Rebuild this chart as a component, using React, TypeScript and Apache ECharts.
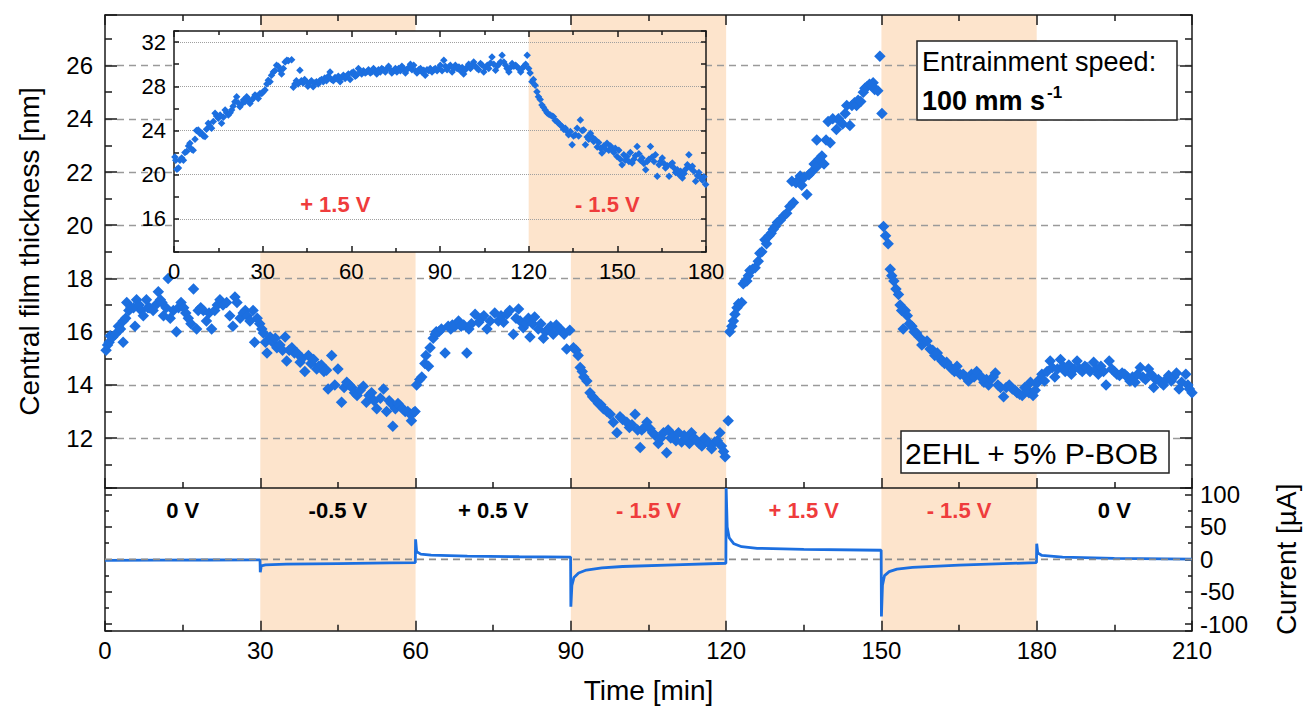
import React, { useEffect, useRef } from 'react';
import * as echarts from 'echarts';

const FONT = '"Liberation Sans", Arial, Helvetica, sans-serif';
const BLUE = '#1c6fe0';
const BAND = '#fde4cc';
const RED = '#ef3c3c';
const AXIS = '#1a1a1a';

// Time axis ticks (minutes)
const timeMin = 0;
const timeMax = 210;
const insetTimeMax = 180;

// Voltage segments of the experiment
const segFrom = [0, 30, 60, 90, 120, 150, 180];
const segTo = [30, 60, 90, 120, 150, 180, 210];
const segLabel = ['0 V', '-0.5 V', '+ 0.5 V', '- 1.5 V', '+ 1.5 V', '- 1.5 V', '0 V'];
const segBand = [false, true, false, true, false, true, false];
const segRed = [false, false, false, true, true, true, false];

// Inset segments
const insetFrom = [0, 120];
const insetTo = [120, 180];
const insetLabel = ['+ 1.5 V', '- 1.5 V'];
const insetBand = [false, true];

const insetGridValues = [16, 20, 24, 28, 32];
// zero-current reference line (time, current)
const currentZero: [number, number][] = [[0, 0], [210, 0]];

// Central film thickness [nm] vs time [min] (main plot)
const thickness: [number, number][] = [
  [0.2,15.3],[0.5,15.5],[0.8,15.6],[1,15.85],[1.5,15.8],[2,15.9],[2.6,16.2],[3,16.1],[3.5,16.4],[3.5,15.6],[4,16.5],[4.2,17.1],[4.6,16.8],[5,16.9],[5.5,16.9],[5.8,16.2],[6.1,17.2],[6.6,17.0],[7,16.8],[7.4,16.6],[8,17.2],[8.3,16.9],[8.6,16.9],[9.3,16.8],[9.8,17.0],[10.3,17.5],[10.7,17.2],[11,17.1],[11.3,16.6],[11.8,16.9],[12.2,18.0],[12.6,16.5],[13.2,16.8],[13.8,16.0],[14.2,16.9],[14.7,17.1],[15.2,16.9],[15.6,16.7],[16.1,16.5],[16.6,16.3],[17.1,17.6],[17.7,16.1],[18,16.8],[18.5,16.9],[19,16.8],[19.6,16.4],[20.1,16.7],[20.6,16.1],[21.2,16.8],[21.7,17.0],[22.2,17.2],[22.8,17.0],[23.5,17.1],[24.1,16.6],[24.7,16.2],[25.1,17.3],[25.5,17.1],[26.1,16.5],[26.7,16.7],[27.1,16.8],[27.5,16.6],[28,16.4],[28.6,16.8],[28.9,15.6],[29.4,16.5],[29.9,16.3],
  [30.3,16.1],[30.6,15.95],[31,15.6],[31.3,15.2],[31.9,15.8],[32.4,15.6],[32.9,15.75],[33.2,15.4],[33.8,15.5],[34.3,15.3],[34.8,15.8],[35.1,14.9],[35.6,15.3],[36.1,15.4],[36.6,15.2],[37.1,15.2],[37.7,14.85],[38.1,15.0],[38.6,14.5],[39.3,15.1],[39.8,14.8],[40.3,14.95],[40.9,14.6],[41.3,14.7],[41.8,14.75],[42.3,14.5],[42.8,14.55],[43.1,13.85],[43.8,15.1],[44.4,14.0],[45,14.6],[45.7,13.35],[46.2,13.9],[46.7,14.1],[47.2,14.0],[47.7,13.9],[48.2,13.7],[48.7,13.6],[49.3,13.8],[49.9,13.95],[50.5,13.35],[51,13.6],[51.5,13.7],[52,13.4],[52.5,13.1],[53.2,13.5],[53.8,13.85],[54.4,13.0],[54.9,13.4],[55.3,13.3],[55.6,12.45],[56.1,13.1],[56.6,13.3],[57,13.2],[57.5,13.1],[58,13.0],[58.5,13.0],[59,12.9],[59.2,12.65],[59.6,12.95],[59.9,13.0],
  [60.2,14.0],[60.8,14.2],[61.2,14.3],[61.8,14.8],[62,15.1],[62.5,14.7],[62.8,15.4],[63.4,15.75],[63.8,15.9],[64,16.0],[64.5,16.0],[65,16.1],[65.7,15.2],[66.3,16.2],[66.8,16.1],[67.1,16.25],[67.6,16.2],[68.3,16.4],[68.8,16.2],[69.3,16.25],[69.9,15.2],[70.3,16.1],[70.8,16.3],[71.5,16.65],[72.2,16.35],[72.7,16.5],[73.2,16.6],[73.8,16.1],[74.4,16.4],[75.3,16.7],[76,16.4],[76.5,16.6],[77,16.35],[77.6,16.65],[78.2,16.8],[78.9,15.9],[79.4,16.5],[79.9,16.85],[80.2,16.4],[80.8,16.15],[81.3,16.3],[81.8,16.5],[82.1,15.8],[82.6,16.3],[83,16.55],[83.7,16.1],[84.2,16.3],[84.7,15.75],[85.1,16.0],[85.6,16.1],[86.1,16.2],[86.6,15.9],[87.2,16.25],[87.7,16.1],[88.2,16.05],[88.7,15.9],[89.2,15.35],[89.8,16.05],
  [90.5,15.4],[91,15.3],[91.4,15.1],[91.8,14.65],[92.2,14.5],[92.5,14.3],[93.1,14.15],[93.7,13.7],[94.2,13.55],[94.7,13.45],[95.3,13.3],[95.8,13.25],[96.3,13.1],[97,13.0],[97.6,12.9],[98.2,12.6],[98.9,12.2],[99.5,12.8],[100,12.7],[100.8,12.6],[101.3,12.4],[101.8,12.5],[102.4,12.9],[102.9,12.3],[103.4,11.65],[103.7,12.3],[104.2,12.4],[104.7,12.6],[105.3,12.35],[105.8,12.2],[106.3,12.1],[106.9,11.8],[107.4,12.0],[107.9,12.2],[108.5,11.45],[108.8,12.3],[109.3,12.0],[109.8,12.1],[110.3,11.9],[110.8,12.2],[111.4,11.85],[111.9,12.1],[112.4,12.0],[112.9,11.8],[113.3,12.2],[113.8,12.0],[114.3,11.9],[114.8,11.8],[115.3,11.7],[115.8,12.0],[116.2,11.9],[116.7,11.8],[117.2,11.6],[117.8,11.85],[118.3,11.9],[118.8,12.2],[119.1,11.7],[119.5,11.5],[119.8,11.3],
  [120.4,12.65],[120.7,16.0],[121.1,16.2],[121.4,16.4],[121.7,16.65],[122.1,16.9],[122.4,17.05],[123,17.1],[123.3,17.8],[123.7,17.9],[124,17.9],[124.3,18.1],[124.6,18.3],[125.1,18.35],[125.6,18.4],[126.2,18.65],[126.5,18.95],[126.9,19.0],[127.5,19.45],[127.8,19.3],[128.3,19.6],[128.7,19.7],[129.1,19.85],[129.5,19.95],[129.9,20.1],[130.5,20.2],[131.1,20.35],[131.7,20.45],[132.3,20.7],[132.7,21.65],[133,20.85],[133.5,21.6],[134,21.7],[134.3,21.85],[134.6,21.5],[135.1,21.8],[135.6,21.15],[136,21.9],[136.5,22.0],[137,22.3],[137.5,22.2],[137.5,23.2],[138,22.5],[138.5,22.6],[138.9,22.3],[139.3,23.2],[139.7,23.9],[140.1,23.1],[140.6,24.0],[141.3,23.6],[141.7,24.0],[142,23.9],[142.5,23.8],[143,24.2],[143.3,24.5],[143.9,23.75],[144.3,24.5],[144.8,24.6],[145.2,24.5],[145.5,24.7],[146,24.65],[146.5,25.0],[146.8,25.15],[147.2,25.2],[147.7,25.3],[148.1,25.25],[148.4,25.35],[148.7,25.1],[149.3,25.05],[149.7,26.35],
  [150.1,24.2],[150.4,19.95],[150.8,19.6],[151.3,19.3],[151.7,18.35],[152,18.1],[152.4,17.9],[152.8,17.6],[153.3,17.4],[153.6,17.0],[153.9,16.8],[154.2,16.1],[154.6,16.8],[155,16.6],[155.4,16.3],[155.9,16.2],[156.3,16.0],[156.8,15.95],[157.3,15.8],[157.8,15.5],[158.3,15.6],[158.8,15.65],[159.4,15.35],[159.9,15.3],[160.3,15.1],[160.8,15.2],[161.3,15.0],[161.7,14.9],[162.2,14.8],[162.6,14.85],[163.1,14.7],[163.6,14.6],[164.1,14.5],[164.6,14.7],[165.2,14.4],[165.8,14.4],[166.3,14.3],[166.8,14.15],[167.4,14.4],[167.9,14.3],[168.4,14.5],[168.9,14.35],[169.3,14.3],[169.8,14.1],[170.3,14.2],[170.7,14.0],[171.1,14.2],[171.6,14.3],[172,14.45],[172.5,14.0],[173,13.9],[173.6,13.55],[174.1,13.9],[174.7,14.0],[175.3,13.85],[175.8,13.8],[176.2,13.7],[176.7,13.65],[177.2,13.6],[177.7,13.9],[178.1,13.85],[178.5,13.7],[178.8,14.1],[179.3,13.6],[179.7,13.8],
  [180,14.05],[180.5,14.2],[181,14.4],[181.5,14.15],[182,14.5],[182.6,14.9],[183,14.65],[183.5,14.3],[184,14.6],[184.6,14.95],[185.1,14.7],[185.5,14.5],[186.2,14.75],[186.7,14.4],[187.2,14.6],[187.8,14.9],[188.3,14.6],[188.8,14.5],[189.3,14.7],[189.7,14.65],[190.3,14.5],[191,14.85],[191.5,14.6],[191.9,14.4],[192.4,14.7],[192.9,14.5],[193.4,14.0],[194,14.9],[194.5,14.6],[195,14.5],[195.5,14.4],[196,14.35],[196.5,14.45],[197,14.4],[197.5,14.3],[198,14.15],[198.5,14.3],[199,14.1],[199.5,14.4],[200,14.65],[200.5,14.3],[201,14.2],[201.6,14.6],[202.1,14.4],[202.6,13.9],[203,14.2],[203.5,14.2],[204,14.1],[204.5,14.0],[205,14.2],[205.5,14.35],[206,14.15],[206.5,14.3],[207,14.45],[207.5,13.85],[208,14.1],[208.8,14.4],[209.2,14.0],[209.5,13.85],[210,13.7]
];

// Inset: central film thickness [nm] vs time [min] at +1.5 V then -1.5 V
const insetThickness: [number, number][] = [
  [0.3,21.6],[0.6,21.3],[1,20.5],[1.5,20.6],[2,21.3],[2.6,21.5],[3.2,21.3],[3.7,22.0],[4.3,22.1],[4.9,22.6],[5.4,22.85],[6,22.3],[6.5,22.2],[7.1,23.2],[7.6,24.0],[8.2,24.05],[8.7,23.75],[9.4,23.75],[9.9,23.5],[10.5,23.45],[11,24.1],[11.6,24.65],[12.1,24.4],[12.7,24.2],[13.3,24.8],[13.9,25.55],[14.4,25.3],[15,25.1],[15.6,25.4],[16.1,24.65],[16.7,25.2],[17.3,25.85],[17.8,25.6],[18.4,25.4],[19,25.6],[19.5,25.85],[20,26.2],[20.6,26.6],[21.2,27.05],[21.7,26.5],[22.3,26.15],[22.9,26.4],[23.5,26.75],[24,26.6],[24.6,27.05],[25.2,26.8],[25.7,26.45],[26.3,26.75],[26.8,26.9],[27.4,27.2],[27.9,27.1],[28.5,26.9],[29.1,27.35],[29.7,27.35],[30.2,27.5],[30.8,27.65],[31.4,28.2],[31.9,28.55],[32.5,28.4],[33,29.0],[33.6,29.3],[34.1,29.4],[34.7,29.9],[35.3,29.8],[35.9,29.45],[36.4,29.1],[37,29.6],[37.6,30.2],[38.2,30.35],[38.7,30.3],[39.8,30.4],
  [40.4,27.9],[40.9,28.2],[41.4,28.5],[42,28.2],[42.6,29.45],[43.1,28.5],[43.7,28.3],[44.2,28.6],[44.8,28.4],[45.3,28.0],[45.9,28.3],[46.5,28.5],[47.1,27.95],[47.6,28.3],[48.2,28.4],[48.8,28.2],[49.3,28.5],[49.9,28.6],[50.5,28.4],[51,28.75],[51.6,28.5],[52.2,28.9],[52.8,29.3],[53.3,28.6],[53.9,28.5],[54.5,28.8],[55,28.7],[55.6,28.9],[56.2,28.4],[56.7,28.8],[57.3,29.0],[57.9,28.7],[58.4,28.9],[59,29.1],[59.6,28.6],[60.1,29.2],[60.7,29.3],[61.3,28.9],[61.8,29.0],[62.4,29.6],[63,29.3],[63.5,29.1],[64.1,29.4],[64.7,29.2],[65.2,29.3],[65.8,29.5],[66.4,29.2],[66.9,29.3],[67.5,29.6],[68.1,29.4],[68.6,29.1],[69.2,29.5],[69.8,29.3],[70.3,29.6],[70.9,29.5],[71.5,29.3],[72,29.55],[72.6,29.8],[73.2,29.5],[73.7,29.2],[74.3,29.4],[74.9,29.6],[75.4,29.3],[76,29.6],[76.6,29.4],[77.1,29.8],[77.7,29.6],[78.3,29.2],[78.8,29.5],[79.4,29.7],[80,30.0],[80.5,29.5],[81.1,29.9],[81.7,29.4],[82.2,29.2],[82.8,29.5],[83.4,29.6],[83.9,29.3],[84.5,29.45],[85,29.0],[85.6,29.5],[86.2,29.4],[86.7,29.6],[87.3,29.3],[87.9,29.5],[88.4,29.6],[89,29.4],[89.6,29.6],
  [90.1,29.9],[90.7,29.4],[91.3,30.35],[91.8,29.8],[92.4,29.5],[93,29.75],[93.5,29.9],[94.1,29.3],[94.7,29.6],[95.2,29.9],[95.8,29.6],[96.4,29.75],[96.9,29.4],[97.5,29.7],[98,29.1],[98.6,29.5],[99.2,29.75],[99.7,30.0],[100.3,29.6],[100.9,29.9],[101.4,30.2],[102,29.8],[102.6,29.6],[103.1,29.5],[103.7,30.05],[104.3,29.9],[104.8,29.3],[105.4,29.7],[106,29.9],[106.5,29.6],[107.1,30.1],[107.6,30.65],[108.2,30.0],[108.8,29.45],[109.3,29.8],[109.9,30.0],[110.5,30.2],[111,30.8],[111.6,30.2],[112.2,29.9],[112.7,29.6],[113.3,29.3],[113.9,29.7],[114.4,30.05],[115,29.8],[115.6,29.9],[116.1,29.75],[116.7,29.6],[117.3,29.3],[117.8,29.6],[118.4,29.8],[119,30.0],[119.5,30.8],[120,29.6],
  [120.5,29.2],[121.1,28.4],[121.6,28.6],[122.2,28.1],[122.8,27.5],[123.3,27.05],[123.9,26.8],[124.5,26.3],[125,26.1],[125.6,25.85],[126.2,25.6],[126.7,25.5],[127.3,25.4],[127.9,25.3],[128.4,25.25],[129,24.9],[129.6,24.8],[130.1,24.65],[130.7,24.5],[131.3,24.35],[131.8,24.1],[132.4,24.2],[133,23.9],[133.5,23.6],[134.1,23.9],[134.7,22.7],[135.2,23.5],[135.8,23.6],[136.4,24.2],[136.9,23.5],[137.5,24.95],[138.1,24.0],[138.6,24.05],[139.2,22.7],[139.8,23.4],[140.3,23.2],[140.9,23.75],[141.5,23.4],[142,23.0],[142.6,23.15],[143.2,22.5],[143.7,22.9],[144.3,22.4],[144.8,21.95],[145.4,22.6],[146,22.3],[146.5,22.85],[147.1,22.2],[147.7,22.6],[148.2,22.25],[148.8,22.0],[149.3,22.4],[149.9,21.65],
  [150.5,22.2],[151,21.4],[151.6,20.9],[152.2,21.8],[152.7,21.3],[153.3,21.65],[153.9,21.2],[154.4,22.0],[155,21.05],[155.6,21.4],[156.1,21.7],[156.7,22.55],[157.3,21.9],[157.8,21.3],[158.4,21.5],[159,21.0],[159.6,20.45],[160.1,21.2],[160.7,21.4],[161.2,22.55],[161.8,21.6],[162.4,21.2],[162.9,21.8],[163.5,19.85],[164.1,20.9],[164.6,21.2],[165.2,21.5],[165.8,21.0],[166.3,20.6],[166.9,20.8],[167.5,19.85],[168,20.9],[168.6,21.05],[169.2,20.6],[169.7,20.2],[170.3,20.45],[170.9,20.0],[171.4,20.3],[172,19.7],[172.6,20.1],[173.1,20.5],[173.7,20.9],[174.2,21.8],[174.8,20.6],[175.4,20.75],[175.9,20.3],[176.5,19.4],[177.1,19.9],[177.6,20.2],[178.2,19.7],[178.8,19.5],[179.3,19.8],[179.9,19.1]
];

// Current [µA] vs time [min]
const current: [number, number][] = [
  [0,-1.5],[10,-1.2],[20,-1],[29.95,-0.8],
  [30,-20],[30.2,-10],[31,-8.5],[35,-7.5],[45,-6.5],[55,-5.5],[59.95,-5],
  [60,31],[60.2,12],[61,8],[63,6.5],[70,5],[80,4],[89.95,3.5],
  [90,-73],[90.2,-40],[90.6,-28],[91.5,-21],[93,-16.5],[96,-13],[100,-11],[110,-8.5],[119.95,-6],
  [120,110],[120.2,50],[120.6,33],[121.5,24],[123,19.5],[126,17],[135,15.5],[149.95,14],
  [150,-88],[150.2,-40],[150.6,-25],[151.5,-19],[153,-15],[156,-12.5],[165,-9],[179.95,-5],
  [180,24],[180.2,10],[181,6],[185,3.5],[195,1.5],[210,0.5]
];

const axisLineStyle = { color: AXIS, width: 1.5 };

function timeAxis(gridIndex: number, position: string, max: number, showLabels: boolean, z: number, major: number, minor: number, fontSize: number, extra: any = {}) {
  return {
    type: 'value', gridIndex, position, min: timeMin, max, interval: 30, z,
    axisLine: { show: true, onZero: false, lineStyle: axisLineStyle },
    axisTick: { show: true, inside: true, length: major, lineStyle: axisLineStyle },
    minorTick: { show: true, splitNumber: 2, length: minor, lineStyle: axisLineStyle },
    axisLabel: { show: showLabels, margin: 8, fontSize, color: '#000', fontFamily: FONT },
    splitLine: { show: false },
    ...extra,
  };
}

const option: any = {
  animation: false,
  backgroundColor: '#fff',
  textStyle: { fontFamily: FONT },
  grid: [
    { left: 105, top: 15, width: 1087, height: 473, outerBoundsMode: 'none', containLabel: false },
    { left: 105, top: 488, width: 1087, height: 142.7, outerBoundsMode: 'none', containLabel: false },
    { left: 174, top: 31, width: 532, height: 221, outerBoundsMode: 'none', containLabel: false, show: true, backgroundColor: '#fff', borderWidth: 0, z: 10 },
  ],
  xAxis: [
    timeAxis(0, 'bottom', timeMax, false, 3, 10, 6, 24),
    timeAxis(0, 'top', timeMax, false, 3, 10, 6, 24),
    timeAxis(1, 'bottom', timeMax, true, 3, 10, 6, 24, {
      name: 'Time [min]', nameLocation: 'middle', nameGap: 46,
      nameTextStyle: { fontSize: 28, color: '#000', fontFamily: FONT },
    }),
    timeAxis(2, 'bottom', insetTimeMax, true, 13, 6, 4, 22),
    timeAxis(2, 'top', insetTimeMax, false, 13, 6, 4, 22),
  ],
  yAxis: [
    {
      type: 'value', gridIndex: 0, position: 'left', min: 10.125, max: 27.9, splitNumber: 9, z: 3,
      name: 'Central film thickness [nm]', nameLocation: 'middle', nameGap: 62,
      nameTextStyle: { fontSize: 28, color: '#000', fontFamily: FONT },
      axisLine: { show: true, onZero: false, lineStyle: axisLineStyle },
      axisTick: { show: true, inside: true, length: 12, lineStyle: axisLineStyle },
      minorTick: { show: true, splitNumber: 2, length: 7, lineStyle: axisLineStyle },
      axisLabel: {
        margin: 12, fontSize: 24, color: '#000', fontFamily: FONT,
        formatter: (v: number) => (Math.abs(v - Math.round(v)) < 1e-6 && Math.round(v) % 2 === 0 ? String(Math.round(v)) : ''),
      },
      splitLine: { show: true, showMinLine: false, showMaxLine: false, lineStyle: { color: '#9a9a9a', type: [7, 5], width: 1.3 } },
    },
    {
      type: 'value', gridIndex: 0, position: 'right', min: 10.125, max: 27.9, splitNumber: 9, z: 3,
      axisLine: { show: true, onZero: false, lineStyle: axisLineStyle },
      axisTick: { show: true, inside: true, length: 12, lineStyle: axisLineStyle },
      minorTick: { show: true, splitNumber: 2, length: 7, lineStyle: axisLineStyle },
      axisLabel: { show: false },
      splitLine: { show: false },
    },
    {
      type: 'value', gridIndex: 1, position: 'left', min: -110, max: 110, splitNumber: 4, z: 3,
      axisLine: { show: true, onZero: false, lineStyle: axisLineStyle },
      axisTick: { show: true, inside: true, length: 7, lineStyle: axisLineStyle },
      minorTick: { show: true, splitNumber: 2, length: 4, lineStyle: axisLineStyle },
      axisLabel: { show: false },
      splitLine: { show: false },
    },
    {
      type: 'value', gridIndex: 1, position: 'right', min: -110, max: 110, splitNumber: 4, z: 3,
      name: 'Current [µA]', nameLocation: 'middle', nameGap: 80,
      nameTextStyle: { fontSize: 28, color: '#000', fontFamily: FONT },
      axisLine: { show: true, onZero: false, lineStyle: axisLineStyle },
      axisTick: { show: true, inside: true, length: 7, lineStyle: axisLineStyle },
      minorTick: { show: true, splitNumber: 2, length: 4, lineStyle: axisLineStyle },
      axisLabel: {
        margin: 8, fontSize: 24, color: '#000', fontFamily: FONT,
        formatter: (v: number) => (Math.abs(v) <= 100 ? String(v) : ''),
      },
      splitLine: { show: false },
    },
    {
      type: 'value', gridIndex: 2, position: 'left', min: 13, max: 33, splitNumber: 10, z: 13,
      axisLine: { show: true, onZero: false, lineStyle: axisLineStyle },
      axisTick: { show: true, inside: true, length: 5, lineStyle: axisLineStyle },
      axisLabel: {
        margin: 8, fontSize: 22, color: '#000', fontFamily: FONT,
        formatter: (v: number) => (v % 4 === 0 && v >= 16 ? String(v) : ''),
      },
      splitLine: { show: false },
    },
    {
      type: 'value', gridIndex: 2, position: 'right', min: 13, max: 33, splitNumber: 10, z: 13,
      axisLine: { show: true, onZero: false, lineStyle: axisLineStyle },
      axisTick: { show: true, inside: true, length: 5, lineStyle: axisLineStyle },
      axisLabel: { show: false },
      splitLine: { show: false },
    },
  ],
  series: [
    {
      type: 'scatter', name: 'thickness', xAxisIndex: 0, yAxisIndex: 0, z: 4,
      data: thickness, symbol: 'diamond', symbolSize: 11.5,
      itemStyle: { color: BLUE, opacity: 1 },
      markArea: {
        silent: true, z: 1,
        label: { show: false },
        data: segFrom.map((f, i) => ({ f, t: segTo[i], b: segBand[i] }))
          .filter((s) => s.b)
          .map((s) => [{ xAxis: s.f, itemStyle: { color: BAND } }, { xAxis: s.t }]),
      },
    },
    {
      type: 'line', name: 'current', xAxisIndex: 2, yAxisIndex: 3, z: 4,
      data: current, showSymbol: false, symbol: 'none',
      lineStyle: { color: BLUE, width: 2.8 },
      markArea: {
        silent: true, z: 1,
        label: { show: true, position: 'insideTop', distance: 11, fontSize: 22, fontWeight: 'bold', fontFamily: FONT },
        data: segFrom.map((f, i) => [
          {
            xAxis: f, name: segLabel[i],
            itemStyle: { color: segBand[i] ? BAND : 'rgba(255,255,255,0)' },
            label: { color: segRed[i] ? RED : '#000' },
          },
          { xAxis: segTo[i] },
        ]),
      },
    },
    {
      // dashed zero reference line of the current panel
      type: 'line', name: 'zero', xAxisIndex: 2, yAxisIndex: 3, z: 6,
      data: currentZero, showSymbol: false, symbol: 'none', silent: true,
      lineStyle: { color: '#8c8c8c', type: [7, 5], width: 1.6 },
    },
    {
      type: 'scatter', name: 'inset', xAxisIndex: 3, yAxisIndex: 4, z: 14,
      data: insetThickness, symbol: 'diamond', symbolSize: 7.5,
      itemStyle: { color: BLUE, opacity: 1 },
      markArea: {
        silent: true, z: 11,
        label: { show: true, position: 'insideBottom', distance: 37, fontSize: 22, fontWeight: 'bold', color: RED, fontFamily: FONT },
        data: insetFrom.map((f, i) => [
          {
            xAxis: f, name: insetLabel[i],
            itemStyle: { color: insetBand[i] ? BAND : 'rgba(255,255,255,0)' },
            label: { offset: [i === 0 ? -16 : -10, 0] },
          },
          { xAxis: insetTo[i] },
        ]),
      },
      markLine: {
        silent: true, z: 12, symbol: ['none', 'none'],
        label: { show: false },
        lineStyle: { color: '#a0a0a0', type: 'dotted', width: 1 },
        data: insetGridValues.map((v) => ({ yAxis: v })),
      },
    },
  ],
  graphic: [
    {
      type: 'group', z: 50,
      children: [
        { type: 'rect', z: 50, shape: { x: 917, y: 41, width: 260, height: 79 }, style: { fill: '#fff', stroke: '#222', lineWidth: 1.5 } },
        { type: 'text', z: 51, x: 922, y: 62, style: { text: 'Entrainment speed:', font: `27px ${FONT}`, fill: '#000', verticalAlign: 'middle' } },
        { type: 'text', z: 51, x: 922, y: 101, style: { text: '100 mm s', font: `bold 27px ${FONT}`, fill: '#000', verticalAlign: 'middle' } },
        { type: 'text', z: 51, x: 1047, y: 92, style: { text: '-1', font: `bold 17px ${FONT}`, fill: '#000', verticalAlign: 'middle' } },
        { type: 'rect', z: 50, shape: { x: 901, y: 431, width: 268, height: 42 }, style: { fill: '#fff', stroke: '#222', lineWidth: 1.5 } },
        { type: 'text', z: 51, x: 905, y: 453, style: { text: '2EHL + 5% P-BOB', font: `30px ${FONT}`, fill: '#000', verticalAlign: 'middle' } },
      ],
    },
  ],
};

export default function App() {
  const ref = useRef<HTMLDivElement>(null);
  useEffect(() => {
    const chart = echarts.init(ref.current!, null, { renderer: 'svg' });
    chart.setOption(option);
    return () => chart.dispose();
  }, []);
  return (
    <div
      ref={ref}
      style={{ position: 'fixed', left: 0, top: 0, width: 1303, height: 708, background: '#fff' }}
    />
  );
}
